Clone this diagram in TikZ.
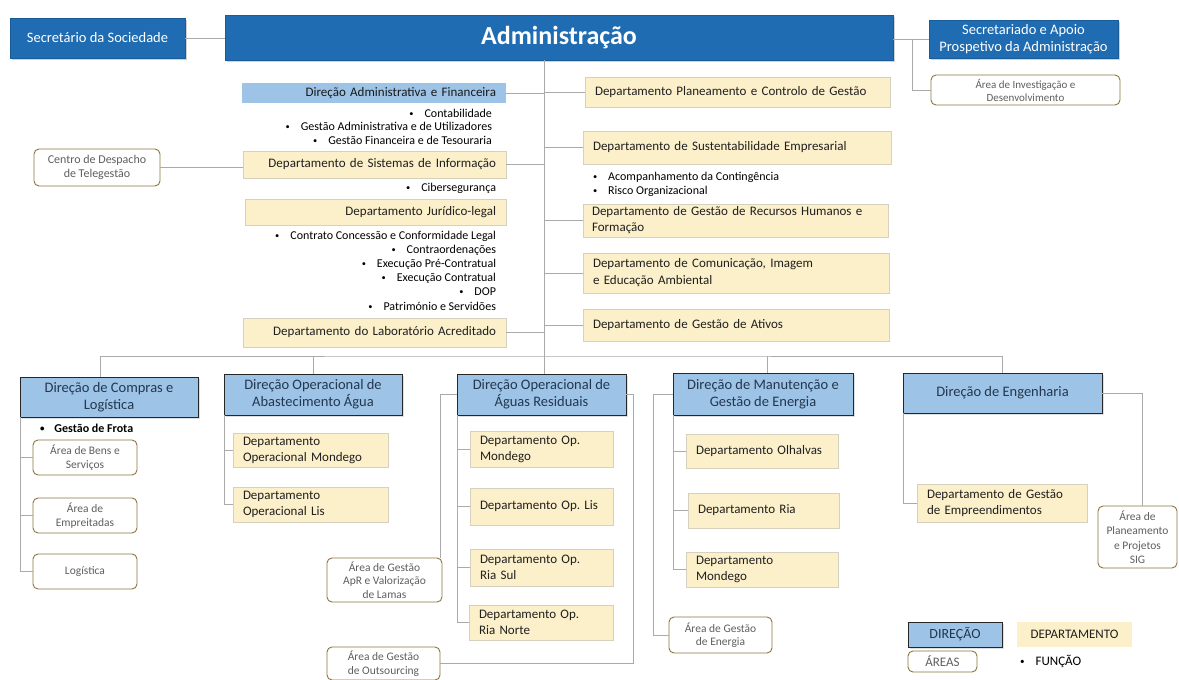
\documentclass[tikz,border=0pt]{standalone}
\usepackage{fontspec}
\usepackage{graphicx}
\setmainfont{Carlito}
\usetikzlibrary{shadows}
\definecolor{adminblue}{RGB}{31,108,178}
\definecolor{dirblue}{RGB}{157,195,230}
\definecolor{deptfill}{RGB}{252,240,203}
\definecolor{deptline}{RGB}{214,208,190}
\definecolor{arealine}{RGB}{140,118,62}
\definecolor{areatext}{RGB}{95,95,95}
\definecolor{linegray}{RGB}{170,170,170}
\definecolor{dirtext}{RGB}{35,55,80}
\tikzset{
  bx/.style={anchor=north west, inner sep=0pt, outer sep=0pt},
  darkbox/.style={bx, fill=adminblue, draw=adminblue!85!black, line width=0.6pt, text=white, align=center,
     drop shadow={shadow xshift=2pt, shadow yshift=-2pt, opacity=0.35}},
  dirbox/.style={bx, fill=dirblue, draw=black!85, line width=1pt, text=dirtext, align=center,
     font=\fontsize{14.5}{17}\selectfont,
     drop shadow={shadow xshift=1.5pt, shadow yshift=-1.5pt, opacity=0.25}},
  deptbox/.style={bx, inner xsep=10pt, fill=deptfill, draw=deptline, line width=0.7pt, text=black!88,
     font=\fontsize{13}{16}\selectfont},
  areabox/.style={bx, fill=white, draw=arealine, line width=0.9pt, rounded corners=5pt, text=areatext,
     align=center, font=\fontsize{11.5}{13.5}\selectfont},
  conn/.style={draw=linegray, line width=0.9pt},
  bul/.style={inner sep=0pt, outer sep=0pt, font=\fontsize{12}{14}\selectfont, text=black},
  bulr/.style={bul, anchor=base east},
  bull/.style={bul, anchor=base west},
}
\newcommand{\bu}{\raisebox{0.6pt}{\scalebox{0.7}{\textbullet}}\hspace{11pt}}
\begin{document}
\begin{tikzpicture}[x=1pt,y=-1pt]
\useasboundingbox (0,0) rectangle (1179,680);
\fill[white] (0,0) rectangle (1179,680);

% ---------- top ----------
\node[darkbox, minimum width=175, minimum height=40, font=\fontsize{14.5}{17}\selectfont] (secsoc) at (10,18) {Secretário da Sociedade};
\node[darkbox, minimum width=668, minimum height=45, font=\bfseries\fontsize{26}{30}\selectfont] (admin) at (225,15) {Administração};
\node[darkbox, minimum width=189, minimum height=38, font=\fontsize{14.5}{17}\selectfont] (secap) at (929,20) {Secretariado e Apoio\\Prospetivo da Administração};
\node[areabox, minimum width=189, minimum height=30, font=\fontsize{11}{13}\selectfont] (inv) at (931,75) {Área de Investigação e\\Desenvolvimento};

\draw[conn] (secsoc.east) -- (secsoc.east -| admin.west);
\draw[conn] (admin.east |- secap.west) -- (secap.west);
\coordinate (sj) at (912,39);
\draw[conn] (sj) |- (inv.west);

% trunk
\coordinate (tr) at (544,356);

% ---------- left column ----------
\node[bx, inner xsep=10pt, fill=dirblue, minimum height=20, text width=244, align=right, text=black!90,
      font=\fontsize{13}{15}\selectfont] (daf) at (242,83) {Direção Administrativa e Financeira};
\node[bulr] (b1) at (492,117) {\bu Contabilidade};
\node[bulr] (b2) at (492,130.5) {\bu Gestão Administrativa e de Utilizadores};
\node[bulr] (b3) at (492,144.5) {\bu Gestão Financeira e de Tesouraria};

\node[deptbox, minimum height=27, text width=243, align=right] (si) at (243,151) {Departamento de Sistemas de Informação};
\node[bulr] (b4) at (496,191) {\bu Cibersegurança};
\node[areabox, minimum width=126, minimum height=37, font=\fontsize{12}{14}\selectfont] (cd) at (34,149) {Centro de Despacho\\de Telegestão};

\node[deptbox, minimum height=26, text width=241, align=right] (jur) at (245,199) {Departamento Jurídico-legal};
\node[bulr] (j1) at (496,239.5) {\bu Contrato Concessão e Conformidade Legal};
\node[bulr] (j2) at (496,253.5) {\bu Contraordenações};
\node[bulr] (j3) at (496,267.5) {\bu Execução Pré-Contratual};
\node[bulr] (j4) at (496,281.5) {\bu Execução Contratual};
\node[bulr] (j5) at (496,295.5) {\bu DOP};
\node[bulr] (j6) at (496,310.5) {\bu Património e Servidões};

\node[deptbox, minimum height=29, text width=243, align=right] (lab) at (243,318) {Departamento do Laboratório Acreditado};

% ---------- right column ----------
\node[deptbox, minimum height=30, text width=285, align=left] (plan) at (585,77) {Departamento Planeamento e Controlo de Gestão};
\node[deptbox, minimum height=33, text width=288, align=left] (sust) at (583,131) {Departamento de Sustentabilidade Empresarial};
\node[bull] (s1) at (593,180.5) {\bu Acompanhamento da Contingência};
\node[bull] (s2) at (593,194.5) {\bu Risco Organizacional};
\node[deptbox, minimum height=33, text width=287, align=left, inner xsep=9pt] (rh) at (583,204) {Departamento de Gestão de Recursos Humanos e\\Formação};
\node[deptbox, minimum height=40, text width=286, align=left, font=\fontsize{13}{17}\selectfont] (com) at (583,253) {Departamento de Comunicação, Imagem\\e Educação Ambiental};
\node[deptbox, minimum height=32, text width=286, align=left] (ativ) at (583,309) {Departamento de Gestão de Ativos};

% trunk connectors
\draw[conn] (daf.east) -- (daf.east -| tr);
\draw[conn] (si.east) -- (si.east -| tr);
\draw[conn] (lab.east) -- (lab.east -| tr);
\draw[conn] (cd.east) -- (cd.east -| si.west);
\draw[conn] (tr |- plan.west) -- (plan.west);
\draw[conn] (tr |- sust.west) -- (sust.west);
\draw[conn] (tr |- rh.west) -- (rh.west);
\draw[conn] (tr |- com.west) -- (com.west);
\draw[conn] (tr |- ativ.west) -- (ativ.west);

% ---------- directions ----------
\node[dirbox, minimum width=178, minimum height=40] (comp) at (20,377) {Direção de Compras e\\Logística};
\node[dirbox, minimum width=178, minimum height=41] (abast) at (224,374) {Direção Operacional de\\Abastecimento Água};
\node[dirbox, minimum width=169, minimum height=41] (aguas) at (457,374) {Direção Operacional de\\Águas Residuais};
\node[dirbox, minimum width=180, minimum height=42] (manut) at (673,373) {Direção de Manutenção e\\Gestão de Energia};
\node[dirbox, minimum width=199, minimum height=40] (eng) at (903,373) {Direção de Engenharia};

\draw[conn] (admin.south -| tr) -- (tr |- aguas.north);
\draw[conn] ([xshift=-9pt]comp.north) |- (tr) -| (eng.north);
\draw[conn] (abast.north) -- (abast.north |- tr);
\draw[conn] ([xshift=4pt]manut.north) -- ([xshift=4pt]manut.north |- tr);

% Compras
\node[bull, font=\bfseries\fontsize{12}{14}\selectfont] (gf) at (40,432) {\raisebox{0.6pt}{\scalebox{0.75}{\textbullet}}\hspace{10pt}Gestão de Frota};
\node[areabox, minimum width=104, minimum height=35] (bens) at (33,440) {Área de Bens e\\Serviços};
\node[areabox, minimum width=104, minimum height=35] (empr) at (33,498) {Área de\\Empreitadas};
\node[areabox, minimum width=104, minimum height=35] (logi) at (33,554) {Logística};
\draw[conn] (comp.south west) |- (logi.west);
\draw[conn] (comp.west |- bens.west) -- (bens.west);
\draw[conn] (comp.west |- empr.west) -- (empr.west);

% Abastecimento
\node[deptbox, minimum height=34, text width=135, align=left] (aom) at (233,433) {Departamento\\Operacional Mondego};
\node[deptbox, minimum height=35, text width=135, align=left] (aol) at (233,487) {Departamento\\Operacional Lis};
\draw[conn] (abast.south west) |- (aol.west);
\draw[conn] (abast.west |- aom.west) -- (aom.west);

% Aguas Residuais
\node[deptbox, minimum height=36, text width=123, align=left] (arm) at (470,431) {Departamento Op.\\Mondego};
\node[deptbox, minimum height=37, text width=123, align=left] (arl) at (470,488) {Departamento Op.\ Lis};
\node[deptbox, minimum height=37, text width=123, align=left] (ars) at (470,549) {Departamento Op.\\Ria Sul};
\node[deptbox, minimum height=35, text width=124, align=left] (arn) at (469,605) {Departamento Op.\\Ria Norte};
\draw[conn] (aguas.south west) |- (arn.west);
\draw[conn] (aguas.west |- arm.west) -- (arm.west);
\draw[conn] (aguas.west |- arl.west) -- (arl.west);
\draw[conn] (aguas.west |- ars.west) -- (ars.west);
\node[areabox, minimum width=115, minimum height=44] (apr) at (327,558) {Área de Gestão\\ApR e Valorização\\de Lamas};
\node[areabox, minimum width=113, minimum height=33] (outs) at (327,647) {Área de Gestão\\de Outsourcing};
\draw[conn] (aguas.west) -| ([xshift=-2pt]apr.north east);
\draw[conn] (aguas.east) -- ++(7,0) |- (outs.east);

% Manutencao
\node[deptbox, minimum height=34, text width=132, align=left] (olh) at (686,434) {Departamento Olhalvas};
\node[deptbox, minimum height=35, text width=131, align=left] (ria) at (688,493) {Departamento Ria};
\node[deptbox, minimum height=35, text width=132, align=left] (mon) at (686,552) {Departamento\\Mondego};
\draw[conn] (manut.south west) |- (mon.west);
\draw[conn] (manut.west |- olh.west) -- (olh.west);
\draw[conn] (manut.west |- ria.west) -- (ria.west);
\node[areabox, minimum width=103, minimum height=36] (ener) at (669,617) {Área de Gestão\\de Energia};
\draw[conn] (manut.west) -- ++(-20,0) |- (ener.west);

% Engenharia
\node[deptbox, minimum height=38, text width=150, align=left] (emp) at (917,484) {Departamento de Gestão\\de Empreendimentos};
\draw[conn] (eng.south west) |- (emp.west);
\node[areabox, minimum width=79, minimum height=62, font=\fontsize{11.5}{14.5}\selectfont] (psig) at (1098,506) {Área de\\Planeamento\\e Projetos\\SIG};
\draw[conn] (eng.east) -| ([xshift=5pt]psig.north);

% Legend
\node[dirbox, minimum width=94, minimum height=25, font=\fontsize{14}{16}\selectfont] (lgdir) at (908,622) {DIREÇÃO};
\node[deptbox, draw=none, minimum width=115, minimum height=25, font=\fontsize{13}{15}\selectfont] (lgdep) at (1017,622) {DEPARTAMENTO};
\node[areabox, minimum width=69, minimum height=21, font=\fontsize{13}{15}\selectfont] (lgar) at (908,651) {ÁREAS};
\node[bull, font=\fontsize{13}{15}\selectfont] (lgfn) at (1020,665) {\bu FUNÇÃO};
\end{tikzpicture}
\end{document}
